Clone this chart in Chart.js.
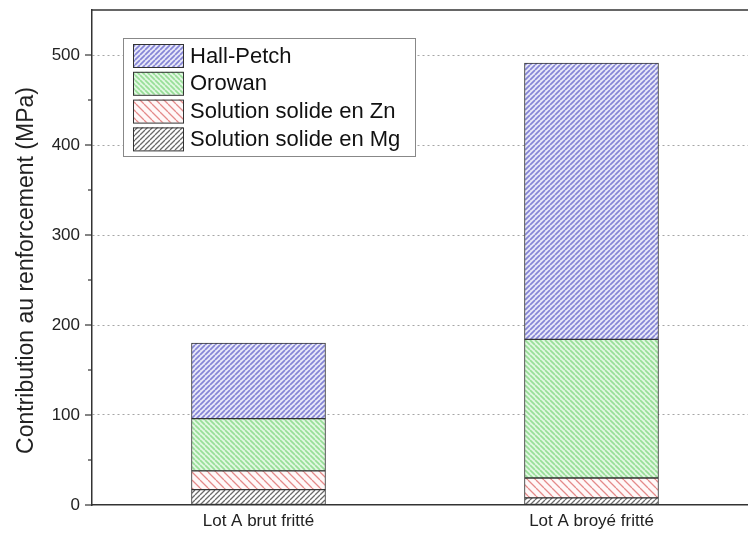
<!DOCTYPE html>
<html><head><meta charset="utf-8">
<script src="https://cdn.jsdelivr.net/npm/chart.js@4"></script>
<style>html,body{margin:0;padding:0;background:#fff;overflow:hidden}</style>
</head><body><canvas id="c" width="748" height="533"></canvas>
<script>
const categories = ['Lot A brut fritté', 'Lot A broyé fritté'];
const categoryPositions = [1, 2];
const seriesNames = ['Solution solide en Mg', 'Solution solide en Zn', 'Orowan', 'Hall-Petch'];
const mgValues = [17, 8];
const znValues = [21, 22];
const orowanValues = [58, 154];
const hallPetchValues = [84, 307];
const yTicks = [0, 100, 200, 300, 400, 500];
const yMinorTicks = [50, 150, 250, 350, 450];
const yTitle = 'Contribution au renforcement (MPa)';

Chart.defaults.font.family = '"Liberation Sans", Arial, sans-serif';

function hatch(bg, fg, size, dir, lw) {
  const c = document.createElement('canvas'); c.width = size; c.height = size;
  const x = c.getContext('2d');
  x.fillStyle = bg; x.fillRect(0, 0, size, size);
  x.strokeStyle = fg; x.lineWidth = lw;
  x.beginPath();
  for (const o of [-size, 0, size]) {
    if (dir === '/') { x.moveTo(o, size); x.lineTo(o + size, 0); }
    else { x.moveTo(o, 0); x.lineTo(o + size, size); }
  }
  x.stroke();
  return x.createPattern(c, 'repeat');
}
const styles = [
  hatch('#ffffff', '#6a6a6a', 5, '/', 1.3),
  hatch('#fff8f8', '#e48a8a', 8, '\\', 1.3),
  hatch('#e2f7e2', '#98de98', 5, '\\', 1.7),
  hatch('#e8e8f8', '#8585d6', 5, '/', 1.7)
];
const seriesValues = [mgValues, znValues, orowanValues, hallPetchValues];

const datasets = seriesNames.map((name, i) => ({
  label: name,
  data: seriesValues[i].map((v, j) => ({ x: categoryPositions[j], y: v })),
  backgroundColor: styles[i],
  borderColor: '#333',
  borderWidth: 1,
  borderSkipped: false,
  barThickness: 134
}));

const extras = {
  id: 'extras',
  afterDraw(chart) {
    const ctx = chart.ctx, a = chart.chartArea, y = chart.scales.y;
    ctx.save();
    // top frame
    ctx.strokeStyle = '#333'; ctx.lineWidth = 1.5;
    ctx.beginPath(); ctx.moveTo(a.left - 0.75, a.top); ctx.lineTo(a.right, a.top); ctx.stroke();
    // ticks
    ctx.lineWidth = 1.2;
    yTicks.forEach(v => { const p = y.getPixelForValue(v); ctx.beginPath(); ctx.moveTo(a.left - 7, p); ctx.lineTo(a.left, p); ctx.stroke(); });
    yMinorTicks.forEach(v => { const p = y.getPixelForValue(v); ctx.beginPath(); ctx.moveTo(a.left - 4, p); ctx.lineTo(a.left, p); ctx.stroke(); });
    // axis title
    ctx.save();
    ctx.translate(27, (a.top + a.bottom) / 2 + 13);
    ctx.rotate(-Math.PI / 2);
    ctx.fillStyle = '#222'; ctx.font = '23px "Liberation Sans", Arial, sans-serif';
    ctx.textAlign = 'center'; ctx.textBaseline = 'middle';
    ctx.fillText(yTitle, 0, 0);
    ctx.restore();
    // legend
    const bx = a.left + 31, by = a.top + 28, bw = 292, bh = 118;
    ctx.fillStyle = '#fff'; ctx.fillRect(bx, by, bw, bh);
    ctx.strokeStyle = '#888'; ctx.lineWidth = 1; ctx.strokeRect(bx + 0.5, by + 0.5, bw, bh);
    const ds = chart.data.datasets.slice().reverse();
    ds.forEach((d, i) => {
      const sy = by + 6 + i * 27.8;
      ctx.fillStyle = d.backgroundColor; ctx.fillRect(bx + 10, sy, 50, 23);
      ctx.strokeStyle = '#333'; ctx.strokeRect(bx + 10.5, sy + 0.5, 50, 23);
      ctx.fillStyle = '#111'; ctx.font = '22px "Liberation Sans", Arial, sans-serif'; ctx.textBaseline = 'middle';
      ctx.fillText(d.label, bx + 67, sy + 12.5);
    });
    ctx.restore();
  }
};

new Chart(document.getElementById('c'), {
  type: 'bar',
  data: { datasets },
  options: {
    responsive: false,
    animation: false,
    events: [],
    layout: { padding: { top: 10, left: 0, right: 0, bottom: 0 } },
    plugins: { legend: { display: false }, tooltip: { enabled: false } },
    scales: {
      x: {
        type: 'linear', min: 0.5, max: 2.47, stacked: true, offset: false,
        afterBuildTicks: s => { s.ticks = categoryPositions.map(v => ({ value: v })); },
        ticks: { callback: v => { const k = categoryPositions.indexOf(v); return k >= 0 ? categories[k] : ''; }, font: { size: 17 }, color: '#222', padding: 6, maxRotation: 0, autoSkip: false },
        grid: { display: false, drawTicks: false },
        border: { display: true, color: '#333', width: 1.5 },
        afterFit: s => { s.height = 28; s.paddingLeft = 0; s.paddingRight = 0; }
      },
      y: {
        min: 0, max: 550, stacked: true, z: 1,
        afterBuildTicks: s => { s.ticks = yTicks.map(v => ({ value: v })); },
        ticks: { font: { size: 17 }, color: '#222', padding: 12 },
        grid: { drawTicks: false, lineWidth: 1, color: c => (c.tick && c.tick.value === 0) ? 'rgba(0,0,0,0)' : 'rgba(150,150,150,0.85)' },
        border: { display: true, color: '#333', width: 1.5, dash: [2, 3] },
        title: { display: false },
        afterFit: s => { s.width = 92; s.paddingTop = 0; s.paddingBottom = 0; }
      }
    }
  },
  plugins: [extras]
});
</script></body></html>
